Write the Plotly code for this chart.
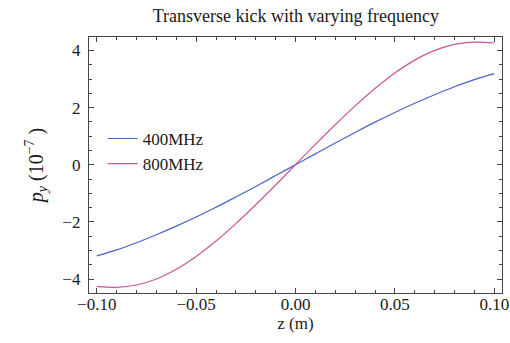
import plotly.graph_objects as go

z = [-0.10, -0.09, -0.08, -0.07, -0.06, -0.05, -0.04, -0.03, -0.02, -0.01, 0.00,
     0.01, 0.02, 0.03, 0.04, 0.05, 0.06, 0.07, 0.08, 0.09, 0.10]
py_400 = [-3.19, -2.98, -2.73, -2.45, -2.15, -1.83, -1.49, -1.13, -0.76, -0.38, 0.0,
          0.38, 0.76, 1.13, 1.49, 1.83, 2.15, 2.45, 2.73, 2.98, 3.19]
py_800 = [-4.26, -4.29, -4.21, -4.00, -3.66, -3.21, -2.67, -2.06, -1.40, -0.71, 0.0,
          0.71, 1.40, 2.06, 2.67, 3.21, 3.66, 4.00, 4.21, 4.29, 4.26]
x_ticks = [-0.10, -0.05, 0.00, 0.05, 0.10]
y_ticks = [-4, -2, 0, 2, 4]

FONT = "Liberation Serif, Times New Roman, serif"

fig = go.Figure()
fig.add_trace(go.Scatter(x=z, y=py_400, mode="lines", name="400MHz",
                         line=dict(color="#4a64c4", width=1.2, shape="spline")))
fig.add_trace(go.Scatter(x=z, y=py_800, mode="lines", name="800MHz",
                         line=dict(color="#cc5595", width=1.2, shape="spline")))

axis_common = dict(
    showgrid=False, zeroline=False, showline=True, linecolor="#444444", linewidth=1.3,
    mirror="ticks", ticks="inside", ticklen=5, tickwidth=1, tickcolor="#444444",
    tickfont=dict(family=FONT, size=17, color="#1a1a1a"), automargin=False,
)

fig.update_layout(
    width=510, height=343,
    margin=dict(l=89, r=8, t=37, b=50),
    paper_bgcolor="white", plot_bgcolor="white",
    font=dict(family=FONT, color="#1a1a1a"),
    title=dict(text="Transverse kick with varying frequency", x=0.58, xanchor="center",
               xref="container", y=0.953, yanchor="middle",
               font=dict(family=FONT, size=18, color="#1a1a1a")),
    xaxis=dict(range=[-0.1039, 0.1039], tickvals=x_ticks, tickformat=".2f",
               ticklabelstandoff=-5,
               minor=dict(dtick=0.01, tick0=0, ticks="inside", ticklen=3, tickcolor="#444444"),
               title=dict(text="z (m)", standoff=1, font=dict(family=FONT, size=17)),
               **axis_common),
    yaxis=dict(range=[-4.49, 4.47], tickvals=y_ticks, ticklabelstandoff=4,
               minor=dict(dtick=0.5, tick0=0, ticks="inside", ticklen=3, tickcolor="#444444"),
               title=dict(text="<i>p</i><sub><i>y</i></sub> (10<sup>−7</sup> )", standoff=13,
                          font=dict(family=FONT, size=20)),
               **axis_common),
    legend=dict(x=0.033, y=0.672, xanchor="left", yanchor="top", bgcolor="rgba(0,0,0,0)",
                font=dict(family=FONT, size=17, color="#1a1a1a"), itemwidth=30,
                tracegroupgap=0),
    showlegend=True,
)

fig.write_html("out.html", config={"displayModeBar": False},
               post_script="document.body.style.margin='0';")
